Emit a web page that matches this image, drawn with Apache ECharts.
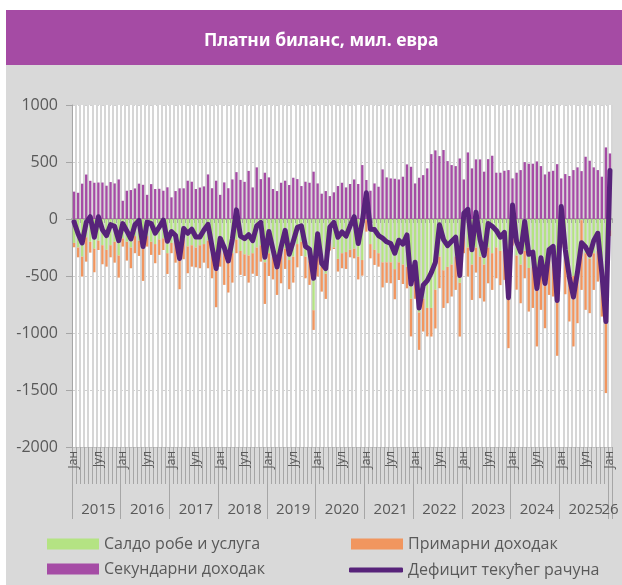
<!DOCTYPE html>
<html><head><meta charset="utf-8">
<script src="https://cdn.jsdelivr.net/npm/echarts@6/dist/echarts.min.js"></script>
<style>html,body{margin:0;padding:0;background:#fff}#c{width:622px;height:585px}</style>
</head><body><div id="c"></div>
<script>
// Labels
const titleText = 'Платни биланс, мил. евра';
const yearLabels = ['2015','2016','2017','2018','2019','2020','2021','2022','2023','2024','2025','26'];
const monthLabels = ['Јан','Јул'];
const seriesNames = ['Салдо робе и услуга','Примарни доходак','Секундарни доходак','Дефицит текућег рачуна'];
const yTicks = {min: -2000, max: 1000, step: 500};

// Салдо робе и услуга (monthly, Jan 2015 - Jan 2026)
const goods = [
-210,-250,-330,-160,-200,-260,-190,-230,-270,-230,-200,-320,
-170,-200,-250,-150,-190,-260,-150,-200,-220,-180,-170,-300,
-210,-200,-330,-170,-240,-230,-250,-230,-220,-190,-300,-340,
-280,-290,-350,-300,-180,-280,-310,-320,-300,-250,-230,-380,
-300,-330,-420,-300,-260,-360,-330,-220,-200,-330,-370,-800,
-330,-420,-480,-200,-250,-350,-300,-290,-270,-260,-330,-360,
-10,-220,-270,-300,-380,-380,-380,-440,-380,-400,-420,-700,
-520,-820,-700,-780,-780,-620,-330,-450,-420,-400,-330,-560,
-150,-250,-400,-250,-330,-400,-250,-300,-250,-280,-260,-480,
-130,-320,-400,-280,-430,-420,-520,-400,-480,-350,-360,-620,
-140,-330,-500,-500,-440,-10,-300,-350,-300,-280,-430,-600,
-100];
// Примарни доходак
const primary = [
-38,-86,-175,-214,-95,-207,-82,-167,-148,-106,-183,-194,
-72,-165,-182,-150,-134,-283,-92,-115,-168,-135,-102,-182,
-90,-183,-286,-183,-236,-188,-174,-202,-163,-242,-220,-434,
-138,-288,-295,-258,-120,-210,-190,-238,-180,-250,-144,-365,
-200,-200,-246,-264,-178,-256,-228,-204,-124,-190,-208,-173,
-175,-217,-221,-77,-13,-111,-132,-148,-66,-85,-200,-137,
-101,-125,-133,-118,-220,-180,-184,-264,-155,-170,-188,-330,
-180,-328,-287,-250,-251,-340,-277,-330,-319,-280,-292,-471,
-150,-255,-310,-220,-365,-324,-314,-322,-270,-300,-274,-653,
-103,-300,-339,-240,-382,-360,-598,-397,-478,-316,-320,-580,
-110,-330,-399,-618,-474,-612,-497,-476,-322,-269,-426,-927,
-50];
// Секундарни доходак
const secondary = [
240,230,310,390,335,318,320,320,292,324,312,347,
160,248,254,268,310,300,212,306,263,265,248,278,
190,245,269,269,336,327,263,276,286,391,270,336,
212,321,270,347,411,343,326,422,277,453,350,406,
365,263,245,318,336,298,362,350,289,327,318,415,
312,222,245,201,234,289,318,277,307,347,307,473,
342,248,312,283,435,365,356,353,347,371,479,458,
312,362,385,444,569,602,552,605,508,473,464,531,
347,584,444,523,523,415,525,555,406,406,423,429,
356,406,429,499,485,485,505,464,391,415,423,481,
356,394,377,429,453,420,546,511,453,429,371,628,
575];
// Дефицит текућег рачуна
const deficit = [
-25,-130,-210,-30,20,-160,20,-95,-145,-50,-65,-190,
-40,-105,-175,-50,-12,-242,-27,-40,-125,-70,-10,-195,
-110,-145,-346,-83,-125,-90,-158,-158,-96,-47,-246,-435,
-170,-250,-368,-175,80,-150,-172,-138,-190,-60,-30,-335,
-110,-267,-420,-246,-100,-310,-196,-74,-60,-240,-265,-520,
-130,-390,-435,-72,-30,-160,-114,-150,-60,20,-215,-20,
230,-90,-93,-145,-168,-200,-215,-300,-186,-220,-140,-570,
-380,-780,-580,-540,-470,-380,-50,-180,-234,-195,-160,-495,
50,85,-270,60,-180,-320,-39,-64,-100,-160,-118,-690,
123,-200,-290,-22,-310,-290,-610,-340,-565,-270,-240,-715,
110,-270,-510,-685,-465,-208,-246,-315,-190,-125,-480,-900,
425];

const categories = [];
for (let y = 0; y < yearLabels.length; y++)
  for (let m = 1; m <= 12; m++)
    if (categories.length < goods.length) categories.push(yearLabels[y] + '-' + m);
const N = categories.length;

const FONT = 'Open Sans';
const TXT = '#595959';
const GRIDC = '#a6a6a6';
const LINEC = '#57237a';
const legendText = {fontSize: 16, color: TXT, fontFamily: FONT};

const chart = echarts.init(document.getElementById('c'), null, {renderer: 'canvas'});
chart.setOption({
  animation: false,
  backgroundColor: '#ffffff',
  graphic: [
    {type: 'rect', z: -10, shape: {x: 6, y: 65, width: 616, height: 520}, style: {fill: '#d9d9d9'}},
    {type: 'rect', z: -10, shape: {x: 6, y: 10, width: 616, height: 55}, style: {fill: '#a54ba4'}}
  ],
  title: {
    text: titleText, left: 204, top: 32, padding: 0,
    textStyle: {color: '#ffffff', fontSize: 17.5, fontWeight: 'bold', fontFamily: 'Noto Sans'}
  },
  legend: [
    {left: 47, top: 536, padding: 0, orient: 'vertical', itemWidth: 52, itemHeight: 11, itemGap: 9,
     icon: 'rect', data: [seriesNames[0], seriesNames[2]], textStyle: legendText},
    {left: 351, top: 536, padding: 0, orient: 'vertical', itemWidth: 52, itemHeight: 11,
     icon: 'rect', data: [seriesNames[1]], textStyle: legendText},
    {left: 349, top: 562, padding: 0, orient: 'vertical', itemWidth: 54, itemHeight: 5,
     icon: 'roundRect', data: [seriesNames[3]], textStyle: legendText}
  ],
  grid: {left: 72, right: 10, top: 105, bottom: 138, show: true, backgroundColor: '#ffffff', borderWidth: 0},
  xAxis: [
    {type: 'category', data: categories, position: 'bottom',
     axisLine: {onZero: false, lineStyle: {color: '#bfbfbf', width: 1}},
     axisTick: {show: true, interval: 0, length: 37, lineStyle: {color: GRIDC}},
     axisLabel: {interval: 0, rotate: 90, margin: 4, fontSize: 12, color: TXT, fontFamily: FONT,
       formatter: (v, i) => i % 12 === 0 ? monthLabels[0] : (i % 12 === 6 ? monthLabels[1] : '')},
     splitLine: {show: true, interval: 0, lineStyle: {color: '#d6d6d6', width: 2}}},
    {type: 'category', data: categories, position: 'bottom',
     axisLine: {show: false, onZero: false},
     axisTick: {show: true, length: 72, lineStyle: {color: GRIDC},
       interval: (i) => i % 12 === 0},
     axisLabel: {interval: 0, margin: 55, fontSize: 15, color: TXT, fontFamily: FONT,
       formatter: (v, i) => {
         const yi = Math.floor(i / 12);
         const cnt = Math.min(12, N - yi * 12);
         return (i - yi * 12) === Math.floor(cnt / 2) ? yearLabels[yi] : '';
       }},
     splitLine: {show: false}},
    {type: 'category', data: categories, position: 'bottom',
     axisLine: {onZero: true, lineStyle: {color: GRIDC, width: 2}},
     axisTick: {show: true, interval: 0, length: 4, lineStyle: {color: GRIDC}},
     axisLabel: {show: false}, splitLine: {show: false}}
  ],
  yAxis: {
    type: 'value', min: yTicks.min, max: yTicks.max, interval: yTicks.step,
    axisLine: {show: true, lineStyle: {color: GRIDC}},
    axisTick: {show: true, length: 6, lineStyle: {color: GRIDC}},
    axisLabel: {fontSize: 16, color: TXT, fontFamily: FONT, margin: 14, formatter: (v) => String(v)},
    splitLine: {show: true, lineStyle: {color: '#d0d0d0', type: [3, 3], width: 1}}
  },
  series: [
    {name: seriesNames[0], type: 'bar', stack: 'cab', data: goods, barCategoryGap: '42%',
     itemStyle: {color: '#b4e383'}},
    {name: seriesNames[1], type: 'bar', stack: 'cab', data: primary,
     itemStyle: {color: '#f1965f'}},
    {name: seriesNames[2], type: 'bar', stack: 'cab', data: secondary,
     itemStyle: {color: '#a54ca5'}},
    {name: seriesNames[3], type: 'line', data: deficit, symbol: 'none', z: 5,
     itemStyle: {color: LINEC},
     lineStyle: {color: LINEC, width: 5, join: 'round', cap: 'round'}}
  ]
});
</script></body></html>
